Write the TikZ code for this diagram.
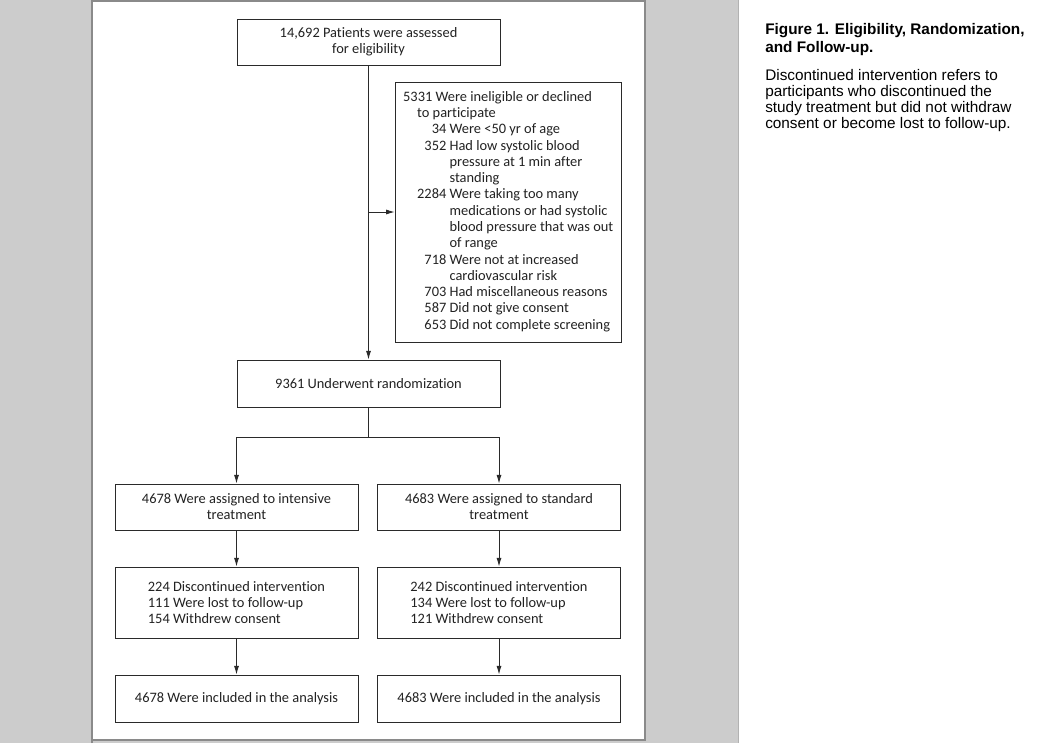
\documentclass[tikz,border=0pt]{standalone}
\usepackage{fontspec}
\setmainfont{Carlito}[Ligatures=NoCommon]
\newfontfamily\capfont{Liberation Sans}
\usetikzlibrary{arrows.meta,positioning}

\definecolor{bggray}{HTML}{CCCCCC}
\definecolor{framegray}{HTML}{8A8A8A}
\definecolor{linegray}{HTML}{2A2A2A}
\definecolor{inkgray}{HTML}{222222}

\tikzset{
  flowbox/.style={draw=linegray, line width=0.7pt, inner sep=0pt, text=inkgray,
    font=\fontsize{10.8}{12}\selectfont, align=center},
  widebox/.style={flowbox, minimum width=197.25pt, minimum height=34.5pt},
  armbox/.style={flowbox, minimum width=182.25pt, minimum height=34.5pt},
  flowarrow/.style={draw=linegray, line width=0.7pt, -{Latex[length=6.5pt,width=3.8pt]}},
  captext/.style={inner sep=0pt, align=left, text=black},
}

\begin{document}
\begin{tikzpicture}[x=0.75pt, y=-0.75pt]
    \useasboundingbox (0,0) rectangle (1055,743);

    % page background and the figure panel
    \fill[bggray] (0,0) rectangle (739,743);
    \draw[gray!60] (738.5,0) -- (738.5,743);
    \fill[white] (92,1) rectangle (645,740);
    \draw[framegray, line width=1pt] (92,743) -- (92,1) -- (645,1) -- (645,740) -- (92,740);

    % flow chart
    \node[widebox] (assess) at (368.5,42) {14,692 Patients were assessed\\for eligibility};
    \node[flowbox, text width=158pt, inner xsep=6pt, minimum height=195pt, align=left,
          font=\fontsize{10.8}{12.2}\selectfont] (excl) at (508.5,212) {%
        \spaceskip=0pt\xspaceskip=0pt
        \begin{tabular}{@{\hspace{10.5pt}}r@{\ }l@{}}
        \multicolumn{2}{@{}l@{}}{5331 Were ineligible or declined}\\
        \multicolumn{2}{@{\hspace{10.5pt}}l@{}}{to participate}\\
        34 & Were <50 yr of age\\
        352 & Had low systolic blood\\
            & pressure at 1 min after\\
            & standing\\
        2284 & Were taking too many\\
             & medications or had systolic\\
             & blood pressure that was out\\
             & of range\\
        718 & Were not at increased\\
            & cardiovascular risk\\
        703 & Had miscellaneous reasons\\
        587 & Did not give consent\\
        653 & Did not complete screening
        \end{tabular}};
    \node[widebox, minimum height=35.25pt] (rand) at (368.5,383.5) {9361 Underwent randomization};

    \node[armbox] (intense) at (236.5,507) {4678 Were assigned to intensive\\treatment};
    \node[armbox] (standard) at (499,507) {4683 Were assigned to standard\\treatment};

    \node[armbox, minimum height=53.25pt, align=left] (stopA) at (236.5,602.5)
        {224 Discontinued intervention\\111 Were lost to follow-up\\154 Withdrew consent};
    \node[armbox, minimum height=53.25pt, align=left] (stopB) at (499,602.5)
        {242 Discontinued intervention\\134 Were lost to follow-up\\121 Withdrew consent};

    \node[armbox, minimum height=35.25pt] (analysisA) at (236.5,698.5) {4678 Were included in the analysis};
    \node[armbox, minimum height=35.25pt] (analysisB) at (499,698.5) {4683 Were included in the analysis};

    % connectors
    \draw[flowarrow] (assess.south) -- (rand.north);
    \draw[flowarrow] (assess.south |- excl.west) -- (excl.west);
    \draw[linegray, line width=0.7pt] (rand.south) -- ++(0,30) coordinate (split);
    \draw[flowarrow] (split) -| (intense.north);
    \draw[flowarrow] (split) -| (standard.north);
    \draw[flowarrow] (intense.south) -- (stopA.north);
    \draw[flowarrow] (standard.south) -- (stopB.north);
    \draw[flowarrow] (stopA.south) -- (analysisA.north);
    \draw[flowarrow] (stopB.south) -- (analysisB.north);

    % caption
    \node[captext, anchor=north west, font=\capfont\bfseries\fontsize{11.5}{13.5}\selectfont]
        (captitle) at (765,23) {Figure 1. Eligibility, Randomization,\\and Follow-up.};
    \node[captext, below right=10pt and 0pt of captitle.south west,
          font=\capfont\fontsize{11.5}{12}\selectfont] (capbody)
        {Discontinued intervention refers to\\participants who discontinued the\\study treatment but did not withdraw\\consent or become lost to follow-up.};
\end{tikzpicture}
\end{document}
